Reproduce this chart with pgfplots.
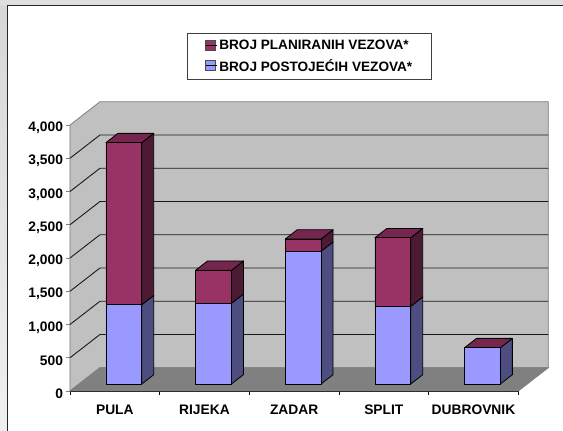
\documentclass[border=0pt]{standalone}
\usepackage{pgfplots}
\usepackage{pgfplotstable}
\usepackage{fontspec}
\setmainfont{Liberation Sans}
\pgfplotsset{compat=1.18}
\definecolor{wallc}{HTML}{C0C0C0}
\definecolor{floorc}{HTML}{808080}
\definecolor{blue1}{HTML}{9999FF}
\definecolor{blue2}{HTML}{4D4D80}
\definecolor{red1}{HTML}{993366}
\definecolor{red2}{HTML}{4D1A33}
\definecolor{red3}{HTML}{75264F}
\pgfplotstableread{
x post plan
0 1192 2437
1 1213 497
2 1995 185
3 1168 1032
4 546 0
}\vezovi
\pgfplotsset{
  base/.style={scale only axis,width=448.3pt,height=266pt,clip=false,at={(0pt,0pt)},anchor=south west},
  face/.style={draw=black,line width=0.8pt,fill=#1,line join=round,forget plot},
  wall/.style={draw=floorc,line width=0.8pt,fill=#1,forget plot},
  gline/.style={draw=black!90,line width=0.9pt,forget plot,no markers},
}
\begin{document}
\begin{tikzpicture}
\useasboundingbox (-70pt,-40pt) rectangle (493pt,391pt);
\fill[white] (-70pt,-40pt) rectangle (493pt,391pt);
\shade[top color=black!16,bottom color=black!6] (-70pt,-40pt) rectangle (-63pt,391pt);
\fill[black!13] (-70pt,385pt) rectangle (493pt,391pt);
\draw[black!85,line width=1pt] (-62.5pt,-40pt) -- (-62.5pt,385pt) -- (493pt,385pt);
% walls, floor, grid, axes
\begin{axis}[base,xmin=-0.5,xmax=4.5,ymin=0,ymax=4000,
  axis x line=bottom,axis y line=left,
  axis line style={-},
  x axis line style={draw=black,line width=1.1pt},
  y axis line style={draw=floorc,line width=0.9pt},
  xtick={0,1,2,3,4},xticklabels={PULA,RIJEKA,ZADAR,SPLIT,DUBROVNIK},
  minor xtick={-0.5,0.5,1.5,2.5,3.5,4.5},
  major x tick style={draw=none},
  minor x tick style={draw=black,line width=0.7pt},
  minor tick length=4pt,
  ytick={0,500,1000,1500,2000,2500,3000,3500,4000},
  ytick style={draw=floorc,line width=0.8pt},
  major tick length=4pt,
  tick align=outside,
  scaled y ticks=false,
  /pgf/number format/assume math mode=true,
  /pgf/number format/1000 sep={,},
  tick label style={font=\fontsize{13.8}{14}\selectfont\bfseries},
  xticklabel style={yshift=-6pt},
  yticklabel style={xshift=0.5pt,yshift=-3pt},
]
\addplot[wall=wallc] coordinates {(-0.5,0)(-0.1654,350)(4.8346,350)(4.8346,4350)(-0.1654,4350)(-0.5,4000)} -- cycle;
\addplot[wall=floorc] coordinates {(-0.5,0)(-0.1654,350)(4.8346,350)(4.5,0)} -- cycle;
\addplot[gline] coordinates {(-0.5,500)(-0.1654,850)(4.8346,850)};
\addplot[gline] coordinates {(-0.5,1000)(-0.1654,1350)(4.8346,1350)};
\addplot[gline] coordinates {(-0.5,1500)(-0.1654,1850)(4.8346,1850)};
\addplot[gline] coordinates {(-0.5,2000)(-0.1654,2350)(4.8346,2350)};
\addplot[gline] coordinates {(-0.5,2500)(-0.1654,2850)(4.8346,2850)};
\addplot[gline] coordinates {(-0.5,3000)(-0.1654,3350)(4.8346,3350)};
\addplot[gline] coordinates {(-0.5,3500)(-0.1654,3850)(4.8346,3850)};
\end{axis}
% side and top faces of the columns
\begin{axis}[base,hide axis,xmin=-0.6,xmax=4.4,ymin=-105,ymax=3895]
% PULA
\addplot[face=blue2] coordinates {(0.2,0)(0.334,140)(0.334,1332)(0.2,1192)} -- cycle;
\addplot[face=red2] coordinates {(0.2,1192)(0.334,1332)(0.334,3769)(0.2,3629)} -- cycle;
\addplot[face=red3] coordinates {(-0.2,3629)(-0.066,3769)(0.334,3769)(0.2,3629)} -- cycle;
% RIJEKA
\addplot[face=blue2] coordinates {(1.2,0)(1.334,140)(1.334,1353)(1.2,1213)} -- cycle;
\addplot[face=red2] coordinates {(1.2,1213)(1.334,1353)(1.334,1850)(1.2,1710)} -- cycle;
\addplot[face=red3] coordinates {(0.8,1710)(0.934,1850)(1.334,1850)(1.2,1710)} -- cycle;
% ZADAR
\addplot[face=blue2] coordinates {(2.2,0)(2.334,140)(2.334,2135)(2.2,1995)} -- cycle;
\addplot[face=red2] coordinates {(2.2,1995)(2.334,2135)(2.334,2320)(2.2,2180)} -- cycle;
\addplot[face=red3] coordinates {(1.8,2180)(1.934,2320)(2.334,2320)(2.2,2180)} -- cycle;
% SPLIT
\addplot[face=blue2] coordinates {(3.2,0)(3.334,140)(3.334,1308)(3.2,1168)} -- cycle;
\addplot[face=red2] coordinates {(3.2,1168)(3.334,1308)(3.334,2340)(3.2,2200)} -- cycle;
\addplot[face=red3] coordinates {(2.8,2200)(2.934,2340)(3.334,2340)(3.2,2200)} -- cycle;
% DUBROVNIK
\addplot[face=blue2] coordinates {(4.2,0)(4.334,140)(4.334,686)(4.2,546)} -- cycle;
\addplot[face=red3] coordinates {(3.8,546)(3.934,686)(4.334,686)(4.2,546)} -- cycle;
\end{axis}
% front faces and legend
\begin{axis}[base,hide axis,xmin=-0.6,xmax=4.4,ymin=-105,ymax=3895,
  ybar stacked,bar width=35.7pt,
  reverse legend,
  legend cell align=left,
  legend style={at={(0.5349,1.258)},anchor=center,draw=black!75,line width=0.9pt,fill=white,
    font=\fontsize{13.6}{14}\selectfont\bfseries,
    inner xsep=17.5pt,inner ysep=5pt,
    row sep=4pt},
  legend image code/.code={\draw[#1,line width=0.8pt,draw=black!70] (0pt,-4.5pt) rectangle (9.5pt,5pt);\path (0pt,0pt) -- (11.2pt,0pt);},
]
\addplot[draw=black,line width=0.8pt,fill=blue1] table[x=x,y=post] {\vezovi};
\addplot[draw=black,line width=0.8pt,fill=red1] table[x=x,y=plan] {\vezovi};
\legend{BROJ POSTOJEĆIH VEZOVA*,BROJ PLANIRANIH VEZOVA*}
\end{axis}
\end{tikzpicture}
\end{document}
